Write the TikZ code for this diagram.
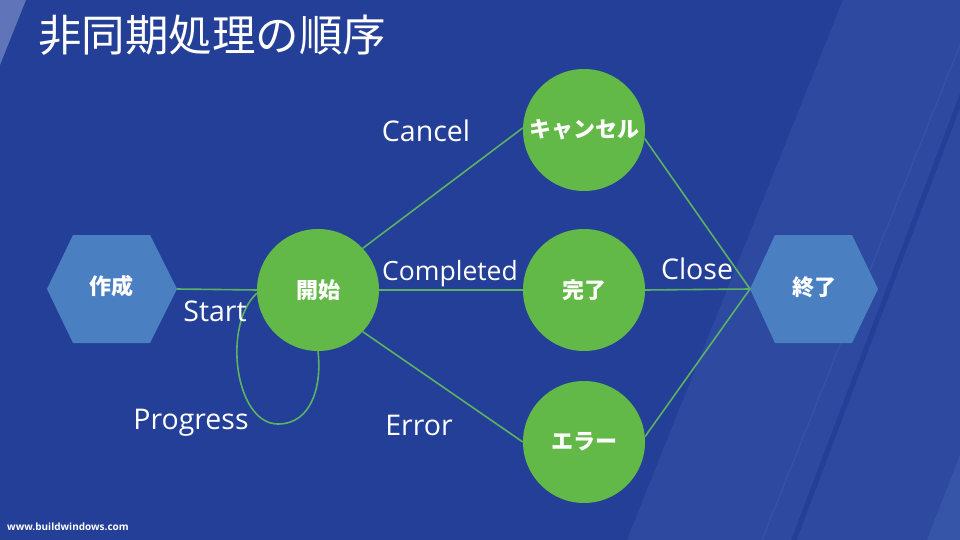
\documentclass[tikz,border=0pt]{standalone}
\usepackage{fontspec}
\setmainfont{Open Sans}
\newfontfamily\cjk{Noto Sans CJK JP}
\definecolor{bgblue}{RGB}{35,63,151}
\definecolor{stripeA}{RGB}{45,74,160}
\definecolor{stripeB}{RGB}{54,84,168}
\definecolor{stripeC}{RGB}{96,116,186}
\definecolor{hexblue}{RGB}{74,127,194}
\definecolor{circgreen}{RGB}{99,185,72}
\definecolor{linegreen}{RGB}{90,178,98}
\tikzset{
  statecirc/.style={circle, fill=circgreen, minimum size=122pt, inner sep=0pt, text=white, font=\cjk\bfseries\fontsize{22}{26}\selectfont},
  hexlabel/.style={text=white, font=\cjk\bfseries\fontsize{22}{26}\selectfont},
  conn/.style={draw=linegreen, line width=1.6pt},
  lab/.style={text=white, font=\fontsize{28.5}{32}\selectfont, inner sep=0pt},
}
\begin{document}
\begin{tikzpicture}[x=1pt, y=-1pt]
\useasboundingbox (0,0) rectangle (960,540);
% background
\fill[bgblue] (0,0) rectangle (960,540);
\fill[stripeA] (843,0) -- (960,0) -- (960,540) -- (627,540) -- cycle;
\draw[stripeB, line width=1pt] (978,0) -- (762,540);
\draw[bgblue, line width=5pt] (1000,-5) -- (792,545);
\fill[stripeB] (927,540) -- (960,455) -- (960,540) -- cycle;
\fill[stripeC] (0,0) -- (26,0) -- (0,65) -- cycle;
% title
\node[anchor=west, text=white, inner sep=0pt, font=\cjk\fontsize{43.5}{50}\selectfont] (title) at (38,35) {非同期処理の順序};
\node[anchor=west, text=white, inner sep=0pt, font=\bfseries\fontsize{10}{12}\selectfont] (url) at (7,527) {www.buildwindows.com};
% hexagons
\fill[hexblue] (47,289) -- (73,235) -- (150,235) -- (177,289) -- (150,343) -- (73,343) -- cycle;
\fill[hexblue] (750,289) -- (775,235) -- (852,235) -- (878,289) -- (852,343) -- (775,343) -- cycle;
\coordinate (starte) at (177,289);
\coordinate (endw) at (750,289);
\node[hexlabel] (create) at (111,286) {作成};
\node[hexlabel] (finish) at (814,287) {終了};
% circles
\node[statecirc] (kai) at (318,290) {開始};
\node[statecirc] (cancel) at (584,130) {キャンセル};
\node[statecirc] (done) at (584,290) {完了};
\node[statecirc] (err) at (584,442) {エラー};
% connectors
\draw[conn] (starte) -- (kai.west);
\draw[conn] (kai.43) -- (cancel.178);
\draw[conn] (kai.east) -- (done.west);
\draw[conn] (kai.-43) -- (err.180);
\draw[conn] (cancel.-8) -- (endw);
\draw[conn] (done.east) -- (endw);
\draw[conn] (err.5) -- (endw);
\draw[conn] (kai.183) .. controls (222,325) and (235,424) .. (278,424) .. controls (312,424) and (322,385) .. (kai.south);
% labels
\node[lab] (lcancel) at (426,131) {Cancel};
\node[lab, font=\fontsize{26.5}{30}\selectfont] (lcomp) at (450,274) {Completed};
\node[lab] (lerr) at (419,425) {Error};
\node[lab] (lclose) at (697,269) {Close};
\node[lab] (lstart) at (215,311) {Start};
\node[lab] (lprog) at (191,423) {Progress};
\end{tikzpicture}
\end{document}
